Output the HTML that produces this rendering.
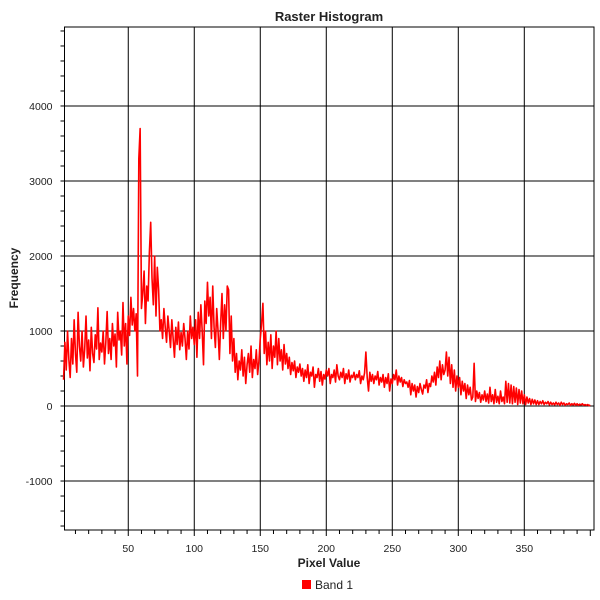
<!DOCTYPE html>
<html><head><meta charset="utf-8"><style>
html,body{margin:0;padding:0;background:#fff;width:600px;height:600px;overflow:hidden}
svg text{font-family:"Liberation Sans",sans-serif;fill:#222}
</style></head><body>
<svg id="chart" width="600" height="600" xmlns="http://www.w3.org/2000/svg">
<text x="329" y="21" text-anchor="middle" font-size="13" font-weight="bold">Raster Histogram</text>
<g id="grid"></g>
<g id="axes"></g>
<g id="series"></g>
<text transform="translate(18,278) rotate(-90)" text-anchor="middle" font-size="12" font-weight="bold">Frequency</text>
<text x="329" y="567" text-anchor="middle" font-size="12" font-weight="bold">Pixel Value</text>
<g>
<rect x="302" y="580" width="9" height="9" fill="#ff0000"/>
<text x="315" y="589" font-size="12">Band 1</text>
</g>
</svg>
<script>
const xTicks = [50,100,150,200,250,300,350];
const yTicks = [-1000,0,1000,2000,3000,4000];
const startValue = 1;
const freq = [
350,850,480,1000,620,380,900,560,1150,700,
450,1250,800,600,1000,520,760,1200,640,880,
470,1050,700,580,950,760,1310,620,840,720,
1000,560,850,1260,700,900,620,1100,800,960,
520,1250,880,1000,680,1380,800,1100,560,1200,
940,1450,1080,1300,1000,1230,400,3300,3700,1300,
1500,1800,1100,1600,1400,2050,2450,1700,1350,2000,
1200,1850,1550,1000,1150,900,1300,1050,850,1200,
1000,780,1150,900,650,1050,820,1120,750,980,
800,1100,900,620,1000,760,1200,900,1050,820,
1150,650,1250,900,1350,1000,550,1400,1100,1650,
1200,1450,900,1600,1050,780,1300,1000,620,1100,
1500,900,1350,1000,1600,1550,700,1200,600,900,
450,700,350,600,480,750,400,650,300,550,
700,450,800,380,620,500,750,420,600,900,
1100,1370,700,1000,550,850,600,950,500,800,
650,1000,550,900,600,750,480,820,560,700,
500,650,420,580,470,600,380,520,450,560,
400,500,330,480,380,550,300,450,400,520,
250,420,380,500,330,460,280,420,360,480,
400,500,300,420,380,480,320,550,400,350,
450,380,500,300,430,360,480,320,410,380,
450,350,420,380,470,300,400,350,440,720,
380,200,450,330,420,300,400,350,460,280,
380,320,420,250,380,300,430,200,360,300,
420,350,480,280,400,320,380,260,350,300,
320,250,340,150,300,200,280,120,260,180,
300,220,160,280,240,350,180,300,260,400,
320,450,280,520,380,600,350,550,420,480,
720,400,650,300,550,250,480,200,400,250,
380,150,330,200,300,100,280,150,250,80,
120,570,60,200,100,180,50,150,80,200,
60,160,40,250,60,150,30,220,50,130,
30,200,60,120,30,330,50,300,40,280,
30,260,50,240,20,220,40,200,30,150,
20,120,40,100,20,90,30,80,20,70,
20,60,30,70,20,50,30,60,15,50,
20,40,15,50,20,40,10,50,20,40,
10,30,20,40,10,30,15,35,10,30,
10,25,15,30,10,20,10,20,5,15
];
const NS="http://www.w3.org/2000/svg";
const L=64.5,R=594,T=27,B=530;
const xMin=1.7,xMax=402.8,yMin=-1653,yMax=5053;
const xs=v=>L+(v-xMin)/(xMax-xMin)*(R-L);
const ys=v=>B-(v-yMin)/(yMax-yMin)*(B-T);
function mk(tag,attrs,parent){const e=document.createElementNS(NS,tag);for(const k in attrs)e.setAttribute(k,attrs[k]);parent.appendChild(e);return e;}
const grid=document.getElementById('grid'),axes=document.getElementById('axes'),series=document.getElementById('series');
xTicks.forEach(t=>{
  const g=mk('line',{x1:xs(t),x2:xs(t),y1:T,y2:B,stroke:'#000','stroke-width':1},grid);
  
  
  const lb=mk('text',{x:xs(t),y:B+22,'text-anchor':'middle','font-size':10.5},axes);
  lb.textContent=t;
  
  
});
yTicks.forEach(t=>{
  const g=mk('line',{x1:L,x2:R,y1:ys(t),y2:ys(t),stroke:'#000','stroke-width':1},grid);
  
  
  const lb=mk('text',{x:L-12,y:ys(t)+4,'text-anchor':'end','font-size':10.5},axes);
  lb.textContent=t;
  
  
});
for(let v=10;v<=400;v+=10){mk('line',{x1:xs(v),x2:xs(v),y1:B,y2:B+(v%50?4:6),stroke:'#000'},axes);}
for(let v=-1600;v<=5000;v+=200){mk('line',{x1:L-4,x2:L,y1:ys(v),y2:ys(v),stroke:'#000'},axes);}
const frame=mk('rect',{x:L,y:T,width:R-L,height:B-T,fill:'none',stroke:'#000','stroke-width':1},axes);


const pts=freq.map((f,i)=>xs(startValue+i).toFixed(2)+','+ys(f).toFixed(2)).join(' ');
const line=mk('polyline',{points:pts,fill:'none',stroke:'#ff0000','stroke-width':1.6,'stroke-linejoin':'round'},series);


</script>
</body></html>
